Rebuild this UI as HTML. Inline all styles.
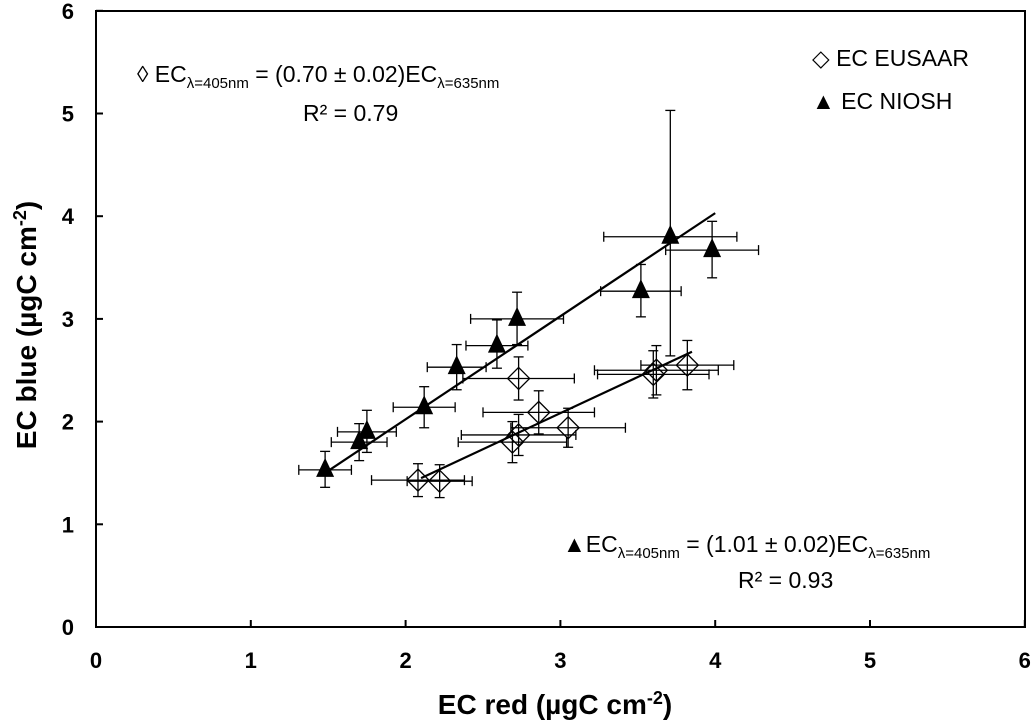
<!DOCTYPE html>
<html><head><meta charset="utf-8"><style>
body{margin:0;background:#fff;}
svg text{font-family:"Liberation Sans",sans-serif;}
</style></head><body>
<svg id="chart" width="1033" height="723" xmlns="http://www.w3.org/2000/svg">
<g id="axes"></g><g id="marks"></g>
<text x="812" y="66" font-size="23">◇ EC EUSAAR</text>
<text x="812" y="109" font-size="23">▲ EC NIOSH</text>
<text x="137" y="82" font-size="23">◊ EC<tspan font-size="15" dy="6">λ=405nm</tspan><tspan dy="-6"> = (0.70 ± 0.02)EC</tspan><tspan font-size="15" dy="6">λ=635nm</tspan></text>
<text x="303" y="121" font-size="23">R² = 0.79</text>
<text x="563" y="552" font-size="23">▲EC<tspan font-size="15" dy="6">λ=405nm</tspan><tspan dy="-6"> = (1.01 ± 0.02)EC</tspan><tspan font-size="15" dy="6">λ=635nm</tspan></text>
<text x="738" y="588" font-size="23">R² = 0.93</text>
<text x="555" y="714" font-size="28" font-weight="bold" text-anchor="middle">EC red (µgC cm<tspan font-size="18" dy="-10">-2</tspan><tspan dy="10">)</tspan></text>
<text transform="translate(36,325) rotate(-90)" font-size="28" font-weight="bold" text-anchor="middle">EC blue (µgC cm<tspan font-size="18" dy="-10">-2</tspan><tspan dy="10">)</tspan></text>
</svg>
<script>
const xTicks=[0,1,2,3,4,5,6];
const yTicks=[0,1,2,3,4,5,6];
const nioshX=[1.48,1.70,1.75,2.12,2.33,2.59,2.72,3.52,3.71,3.98];
const nioshY=[1.53,1.80,1.90,2.14,2.53,2.74,3.00,3.27,3.80,3.67];
const nioshXerr=[0.17,0.18,0.19,0.20,0.19,0.20,0.30,0.26,0.43,0.30];
const nioshYlo=[0.17,0.18,0.20,0.20,0.22,0.22,0.25,0.25,1.16,0.27];
const nioshYhi=[0.18,0.18,0.21,0.20,0.22,0.25,0.26,0.26,1.23,0.28];
const eusX=[2.08,2.22,2.69,2.73,2.73,2.86,3.05,3.60,3.62,3.82];
const eusY=[1.43,1.42,1.80,1.87,2.42,2.09,1.94,2.46,2.50,2.55];
const eusXerr=[0.30,0.21,0.35,0.37,0.36,0.36,0.37,0.36,0.40,0.30];
const eusYerr=[0.16,0.16,0.20,0.20,0.21,0.21,0.19,0.23,0.24,0.24];
const nioshFit=[1.48,1.50,4.0,4.03];
const eusFit=[2.1,1.45,3.85,2.68];
const X=v=>96+v*154.8, Y=v=>627-v*102.7;
const NS="http://www.w3.org/2000/svg";
const axes=document.getElementById('axes'), marks=document.getElementById('marks');
function mk(tag,attrs,parent){const e=document.createElementNS(NS,tag);for(const k in attrs)e.setAttribute(k,attrs[k]);parent.appendChild(e);return e;}
const frame=mk('rect',{x:96,y:11,width:929,height:616,fill:'none',stroke:'#000','stroke-width':2},axes);


xTicks.forEach(t=>{
 const l=mk('line',{x1:X(t),x2:X(t),y1:627,y2:620,stroke:'#000','stroke-width':2},axes);
 
 
 const tx=mk('text',{x:X(t),y:668,'font-size':22,'font-weight':'bold','text-anchor':'middle'},axes);tx.textContent=t;
 
 
});
yTicks.forEach(t=>{
 const l=mk('line',{x1:96,x2:103,y1:Y(t),y2:Y(t),stroke:'#000','stroke-width':2},axes);
 
 
 const tx=mk('text',{x:74,y:Y(t)+8,'font-size':22,'font-weight':'bold','text-anchor':'end'},axes);tx.textContent=t;
 
 
});
function errbar(x,y,xe,ylo,yhi){
 const g=mk('g',{stroke:'#000','stroke-width':1.3},marks);
 
 
 mk('line',{x1:X(x-xe),x2:X(x+xe),y1:Y(y),y2:Y(y)},g);
 mk('line',{x1:X(x-xe),x2:X(x-xe),y1:Y(y)-5,y2:Y(y)+5},g);
 mk('line',{x1:X(x+xe),x2:X(x+xe),y1:Y(y)-5,y2:Y(y)+5},g);
 mk('line',{x1:X(x),x2:X(x),y1:Y(y-ylo),y2:Y(y+yhi)},g);
 mk('line',{x1:X(x)-5,x2:X(x)+5,y1:Y(y-ylo),y2:Y(y-ylo)},g);
 mk('line',{x1:X(x)-5,x2:X(x)+5,y1:Y(y+yhi),y2:Y(y+yhi)},g);
}
eusX.forEach((x,i)=>errbar(x,eusY[i],eusXerr[i],eusYerr[i],eusYerr[i]));
nioshX.forEach((x,i)=>errbar(x,nioshY[i],nioshXerr[i],nioshYlo[i],nioshYhi[i]));
[nioshFit,eusFit].forEach((f,i)=>{
 const l=mk('line',{x1:X(f[0]),y1:Y(f[1]),x2:X(f[2]),y2:Y(f[3]),stroke:'#000','stroke-width':2.2},marks);
 
 
});
eusX.forEach((x,i)=>{
 const cx=X(x),cy=Y(eusY[i]);
 const p=mk('polygon',{points:`${cx},${cy-11} ${cx+11},${cy} ${cx},${cy+11} ${cx-11},${cy}`,fill:'none',stroke:'#000','stroke-width':1.3},marks);
 
 
});
nioshX.forEach((x,i)=>{
 const cx=X(x),cy=Y(nioshY[i]);
 const p=mk('polygon',{points:`${cx},${cy-12} ${cx+9},${cy+7} ${cx-9},${cy+7}`,fill:'#000'},marks);
 
 
});
</script>
</body></html>
